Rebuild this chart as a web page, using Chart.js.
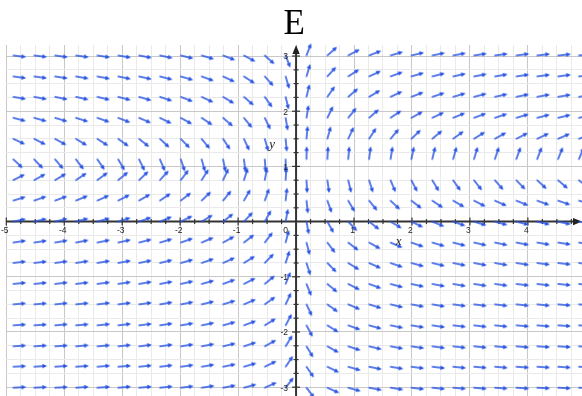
<!DOCTYPE html>
<html><head><meta charset="utf-8">
<script src="https://cdn.jsdelivr.net/npm/chart.js@4.4.1/dist/chart.umd.min.js"></script>
<style>html,body{margin:0;padding:0;background:#fff;overflow:hidden}</style>
</head><body>
<canvas id="c" width="582" height="396"></canvas>
<script>
// ---- data: arrow tails (grid points) and direction angles in degrees (data space) ----
const xColumns = [-4.88,-4.52,-4.16,-3.80,-3.43,-3.07,-2.71,-2.35,-1.99,-1.63,-1.26,-0.90,-0.54,-0.18,
                   0.18, 0.54, 0.90, 1.26, 1.63, 1.99, 2.35, 2.71, 3.07, 3.43, 3.80, 4.16, 4.52, 4.88];
const yRows = [3.01,2.63,2.26,1.88,1.50,1.13,0.75,0.38,0,-0.38,-0.75,-1.13,-1.50,-1.88,-2.26,-2.63,-3.01];

const angY301 = [-7,-7,-8,-8,-9,-10,-11,-12,-14,-17,-22,-29,-43,-70, 70,43,29,22,17,14,12,11,9,8,8,7,6,6];
const angY263 = [-8,-8,-9,-10,-11,-12,-13,-15,-17,-21,-26,-34,-49,-74, 74,49,34,26,21,17,15,13,11,10,9,8,8,7];
const angY226 = [-10,-11,-12,-13,-14,-15,-17,-19,-22,-26,-32,-42,-56,-77, 77,56,42,32,26,22,19,17,15,13,12,11,10,9];
const angY188 = [-15,-16,-17,-18,-20,-22,-24,-27,-30,-35,-42,-52,-65,-81, 81,65,52,42,35,30,26,23,21,19,17,15,14,13];
const angY150 = [-26,-28,-30,-32,-34,-37,-40,-44,-47,-52,-58,-66,-75,-85, 85,75,66,58,51,45,41,37,33,30,28,26,24,22];
const angY113 = [-45,-48,-51,-54,-57,-61,-65,-68,-72,-75,-79,-83,-86,-89, 89,87,85,83,81,79,77,75,74,72,71,70,69,68];
const angY075 = [28,30,32,35,38,41,45,49,54,59,66,73,80,87, -87,-82,-77,-73,-68,-64,-60,-56,-53,-50,-47,-44,-42,-40];
const angY038 = [18,20,21,23,25,28,31,35,39,45,52,61,71,84, -84,-71,-61,-52,-45,-39,-35,-31,-28,-25,-23,-21,-20,-18];
const angY000 = [12,13,14,15,16,18,20,23,27,32,39,48,62,80, -80,-62,-48,-39,-32,-27,-23,-20,-18,-16,-15,-14,-13,-12];
const angYm038 = [9,9,10,11,12,13,15,17,20,24,30,39,54,76, -76,-54,-39,-30,-24,-20,-17,-15,-13,-12,-11,-10,-9,-9];
const angYm075 = [7,7,8,9,10,11,12,14,16,20,25,33,47,73, -73,-47,-33,-25,-20,-16,-14,-12,-11,-10,-9,-8,-7,-7];
const angYm113 = [6,6,7,7,8,9,10,11,13,16,21,28,41,69, -69,-41,-28,-21,-16,-13,-11,-10,-9,-8,-7,-7,-6,-6];
const angYm150 = [5,5,6,6,7,7,8,10,11,14,18,24,37,66, -66,-37,-24,-18,-14,-11,-10,-8,-7,-7,-6,-6,-5,-5];
const angYm188 = [4,4,5,5,6,7,7,9,10,12,16,21,33,63, -63,-33,-21,-16,-12,-10,-9,-7,-7,-6,-5,-5,-4,-4];
const angYm226 = [4,4,4,5,5,6,7,8,9,11,14,19,30,60, -60,-30,-19,-14,-11,-9,-8,-7,-6,-5,-5,-4,-4,-4];
const angYm263 = [3,4,4,4,5,5,6,7,8,10,12,17,27,57, -57,-27,-17,-12,-10,-8,-7,-6,-5,-5,-4,-4,-4,-3];
const angYm301 = [3,3,3,4,4,5,5,6,7,9,11,16,25,54, -54,-25,-16,-11,-9,-7,-6,-5,-5,-4,-4,-3,-3,-3];

const xTickLabels = ['-5','-4','-3','-2','-1','1','2','3','4','5'];
const xTickValues = [-5,-4,-3,-2,-1,1,2,3,4,5];
const yTickLabels = ['-3','-2','-1','1','2','3'];
const yTickValues = [-3,-2,-1,1,2,3];

const angleRows = [angY301,angY263,angY226,angY188,angY150,angY113,angY075,angY038,angY000,
                   angYm038,angYm075,angYm113,angYm150,angYm188,angYm226,angYm263,angYm301];
const points = [];
yRows.forEach((y, r) => xColumns.forEach((x, c) => points.push({x: x, y: y, a: angleRows[r][c]})));

// ---- styling ----
const ARROW_COLOR = '#2854e2';
function makeArrowSprite(color) {
  const s = 34, cv = document.createElement('canvas');
  cv.width = s; cv.height = s;
  const g = cv.getContext('2d');
  const cx = s / 2, cy = s / 2, L = 13;
  g.strokeStyle = color; g.fillStyle = color; g.lineWidth = 1.4; g.lineCap = 'round';
  g.beginPath(); g.moveTo(cx, cy); g.lineTo(cx + L - 3, cy); g.stroke();
  g.beginPath(); g.moveTo(cx + L, cy); g.lineTo(cx + L - 4.6, cy - 2.3); g.lineTo(cx + L - 4.6, cy + 2.3); g.closePath(); g.fill();
  return cv;
}
const arrowSprite = makeArrowSprite(ARROW_COLOR);

function stepList(a, b, s) { const out = []; for (let v = a; v <= b + 1e-9; v += s) out.push(Math.round(v * 100) / 100); return out; }
const xGrid = stepList(-5, 4.75, 0.25);
const yGrid = stepList(-3, 3, 0.25);
const isMajor = v => Math.abs(v - Math.round(v)) < 1e-6;
const gridColor = c => (c.tick && isMajor(c.tick.value)) ? '#c8c8c8' : '#eaeaea';

const axesPlugin = {
  id: 'axesPlugin',
  beforeDatasetsDraw(chart) {
    const {ctx, chartArea: a, scales: {x, y}} = chart;
    const x0 = x.getPixelForValue(0), y0 = y.getPixelForValue(0);
    ctx.save();
    ctx.strokeStyle = '#333'; ctx.fillStyle = '#222'; ctx.lineWidth = 2;
    ctx.beginPath(); ctx.moveTo(a.left, y0); ctx.lineTo(a.right - 6, y0); ctx.stroke();
    ctx.beginPath(); ctx.moveTo(x0, a.bottom); ctx.lineTo(x0, a.top + 6); ctx.stroke();
    // arrow heads
    ctx.beginPath(); ctx.moveTo(a.right, y0); ctx.lineTo(a.right - 9, y0 - 3.6); ctx.lineTo(a.right - 9, y0 + 3.6); ctx.closePath(); ctx.fill();
    ctx.beginPath(); ctx.moveTo(x0, a.top); ctx.lineTo(x0 - 3.6, a.top + 9); ctx.lineTo(x0 + 3.6, a.top + 9); ctx.closePath(); ctx.fill();
    // tick marks
    ctx.lineWidth = 1.2;
    xGrid.forEach(v => { if (v === 0) return; const px = x.getPixelForValue(v); const h = isMajor(v) ? 4 : 2.5;
      ctx.beginPath(); ctx.moveTo(px, y0 - h); ctx.lineTo(px, y0 + h); ctx.stroke(); });
    yGrid.forEach(v => { if (v === 0) return; const py = y.getPixelForValue(v); const h = isMajor(v) ? 4 : 2.5;
      ctx.beginPath(); ctx.moveTo(x0 - h, py); ctx.lineTo(x0 + h, py); ctx.stroke(); });
    ctx.restore();
  },
  afterDatasetsDraw(chart) {
    const {ctx, scales: {x, y}} = chart;
    const x0 = x.getPixelForValue(0), y0 = y.getPixelForValue(0);
    ctx.save();
    ctx.fillStyle = '#222';
    ctx.font = "8.5px 'Liberation Sans', Arial, sans-serif";
    ctx.textBaseline = 'middle';
    ctx.textAlign = 'center';
    xTickValues.forEach((v, i) => ctx.fillText(xTickLabels[i], x.getPixelForValue(v) - 1.5, y0 + 9.5));
    ctx.textAlign = 'right';
    ctx.fillText('0', x0 - 8, y0 + 9.5);
    yTickValues.forEach((v, i) => ctx.fillText(yTickLabels[i], x0 - 8, y.getPixelForValue(v) + 1));
    ctx.font = "italic 13px 'Liberation Serif', 'Times New Roman', serif";
    ctx.textAlign = 'center';
    ctx.fillText('x', x.getPixelForValue(1.77), y0 + 20);
    ctx.fillText('y', x0 - 24, y.getPixelForValue(1.4));
    ctx.restore();
  }
};

new Chart(document.getElementById('c'), {
  type: 'scatter',
  data: { datasets: [{
    data: points,
    pointStyle: arrowSprite,
    pointRadius: 7,
    pointHoverRadius: 7,
    pointRotation: (c) => {
      const p = c.raw; if (!p) return 0;
      const xs = c.chart.scales.x, ys = c.chart.scales.y;
      const kx = xs.getPixelForValue(1) - xs.getPixelForValue(0);
      const ky = ys.getPixelForValue(0) - ys.getPixelForValue(1);
      const r = p.a * Math.PI / 180;
      return -Math.atan2(Math.sin(r) * ky, Math.cos(r) * kx) * 180 / Math.PI;
    },
    clip: false
  }]},
  options: {
    responsive: false, animation: false, devicePixelRatio: 1, events: [],
    layout: { autoPadding: false, padding: { left: 6.3, right: 0, top: 0, bottom: 0 } },
    plugins: {
      legend: { display: false }, tooltip: { enabled: false },
      title: { display: true, text: 'E', color: '#000',
        font: { family: "'Liberation Serif', 'Times New Roman', serif", size: 35, weight: 'normal', lineHeight: 1.1 },
        padding: { top: 6, bottom: 0.5 } }
    },
    scales: {
      x: { type: 'linear', min: -5, max: 4.934,
        afterBuildTicks: ax => { ax.ticks = xGrid.map(v => ({value: v})); },
        ticks: { display: false }, border: { display: false },
        grid: { color: gridColor, lineWidth: 1, drawTicks: false } },
      y: { type: 'linear', min: -3.16, max: 3.2,
        afterBuildTicks: ax => { ax.ticks = yGrid.map(v => ({value: v})); },
        ticks: { display: false }, border: { display: false },
        grid: { color: gridColor, lineWidth: 1, drawTicks: false } }
    }
  },
  plugins: [axesPlugin]
});
</script>
</body></html>
